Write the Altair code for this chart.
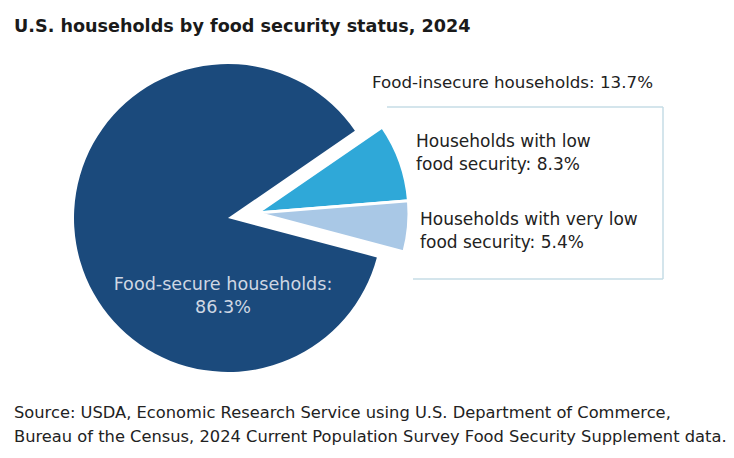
import math
import altair as alt
import pandas as pd

# ---- data ----
keys = ["low", "verylow", "secure"]
categories = ["Households with low food security",
              "Households with very low food security",
              "Food-secure households"]
shares = [8.3, 5.4, 86.3]
ranks = [1, 2, 3]
colors = ["#2fa8d8", "#a9c8e6", "#1b4a7c"]

title_text = "U.S. households by food security status, 2024"
insecure_label = "Food-insecure households: 13.7%"
low_label = ["Households with low", "food security: 8.3%"]
vlow_label = ["Households with very low", "food security: 5.4%"]
secure_label = ["Food-secure households:", "86.3%"]
source_lines = ["Source: USDA, Economic Research Service using U.S. Department of Commerce,",
                "Bureau of the Census, 2024 Current Population Survey Food Security Supplement data."]

df = pd.DataFrame({"key": keys, "category": categories, "share": shares, "rank": ranks})

FONT = "DejaVu Sans"
CX, CY, R = 220, 210, 154
start = math.radians(55.5)

base = alt.Chart(df).encode(
    theta=alt.Theta("share:Q", stack=True,
                    scale=alt.Scale(range=[start, start + 2 * math.pi])),
    order=alt.Order("rank:Q"),
    color=alt.Color("key:N", scale=alt.Scale(domain=keys, range=colors), legend=None),
    x=alt.value(CX),
    y=alt.value(CY),
)

secure_arc = base.mark_arc(radius=R).encode(
    opacity=alt.condition("datum.key == 'secure'", alt.value(1), alt.value(0))
)
exploded_arc = base.mark_arc(radius=R - 2, xOffset=29, yOffset=-5,
                             stroke="white", strokeWidth=3).encode(
    opacity=alt.condition("datum.key != 'secure'", alt.value(1), alt.value(0))
)


def text_layer(lines, x, y, size=16, color="#222222", align="left", weight="normal", dy=23):
    layers = []
    for i, t in enumerate(lines):
        layers.append(
            alt.Chart(pd.DataFrame({"t": [t]})).mark_text(
                align=align, baseline="middle", fontSize=size, font=FONT,
                color=color, fontWeight=weight
            ).encode(x=alt.value(x), y=alt.value(y + i * dy), text="t:N")
        )
    return layers


box_color = "#c6dce6"
rule_df = pd.DataFrame({"k": [0]})
box_top = alt.Chart(rule_df).mark_rule(color=box_color, strokeWidth=1.5).encode(
    x=alt.value(379), x2=alt.value(655), y=alt.value(99))
box_right = alt.Chart(rule_df).mark_rule(color=box_color, strokeWidth=1.5).encode(
    x=alt.value(655), y=alt.value(99), y2=alt.value(271))
box_bottom = alt.Chart(rule_df).mark_rule(color=box_color, strokeWidth=1.5).encode(
    x=alt.value(405), x2=alt.value(655), y=alt.value(271))

layers = [box_top, box_right, box_bottom, secure_arc, exploded_arc]
layers += text_layer([title_text], 6, 19, size=17.6, color="#1a1a1a", weight="bold")
layers += text_layer([insecure_label], 364, 75, size=16.7)
layers += text_layer(low_label, 408, 134, size=17)
layers += text_layer(vlow_label, 412, 212, size=17)
layers += text_layer(secure_label, 215, 277, size=17.6, color="#cfd7e3", align="center")
layers += text_layer(source_lines, 6, 405, size=16.3, dy=24)

chart = alt.layer(*layers).properties(
    width=718, height=442,
    autosize=alt.AutoSizeParams(type="none"),
    padding=0,
    background="white",
).configure_view(stroke=None)

chart.save("out.html", embed_options={"renderer": "svg", "actions": False})
